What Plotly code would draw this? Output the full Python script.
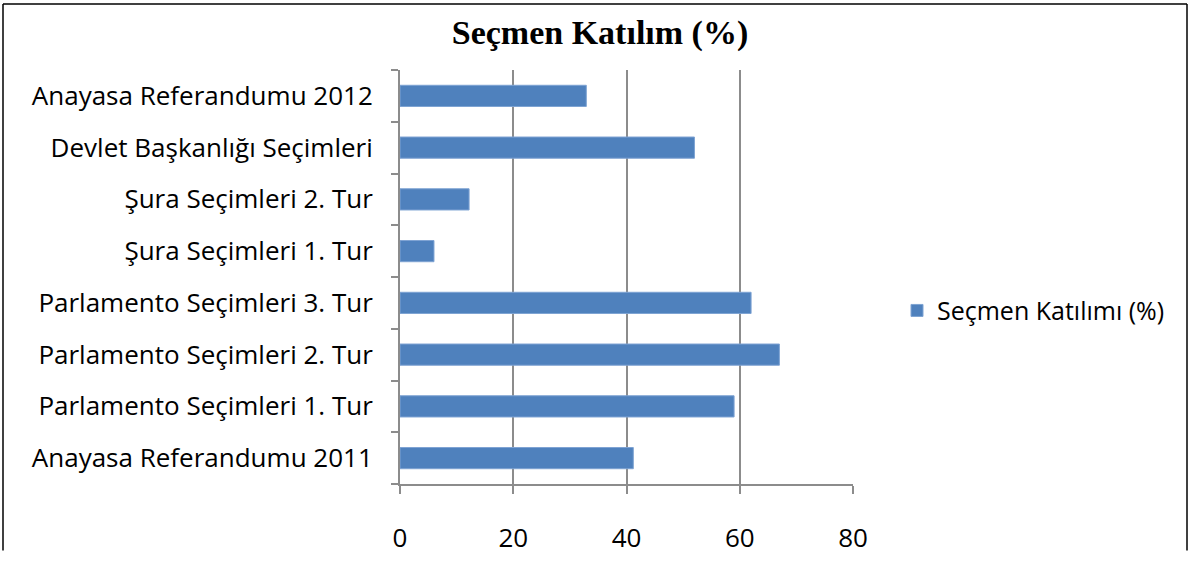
import plotly.graph_objects as go

categories = [
    "Anayasa Referandumu 2011",
    "Parlamento Seçimleri 1. Tur",
    "Parlamento Seçimleri 2. Tur",
    "Parlamento Seçimleri 3. Tur",
    "Şura Seçimleri 1. Tur",
    "Şura Seçimleri 2. Tur",
    "Devlet Başkanlığı Seçimleri",
    "Anayasa Referandumu 2012",
]
values = [41.2, 59.0, 67.0, 62.0, 6.0, 12.2, 52.0, 32.9]
series_name = "Seçmen Katılımı (%)"
title_text = "Seçmen Katılım (%)"
x_ticks = [0, 20, 40, 60, 80]

W, H = 1189, 567
HE = 552          # height the figure is effectively drawn at in the viewer
L, T = 400, 70
R = W - 853
B = HE - 500
pw, ph = W - L - R, HE - T - B

def px(xr):  # picture x pixel -> paper coord
    return (xr - L) / pw

def py(yr):  # picture y pixel -> paper coord
    return (HE - B - yr) / ph

fig = go.Figure()
fig.add_trace(go.Bar(
    x=values, y=categories, orientation="h", name=series_name,
    marker=dict(color="#4F81BD", line=dict(color="#7EA3D3", width=1)),
    showlegend=True,
))

grid = "#8C8C8C"
fig.update_layout(
    width=W, height=H,
    margin=dict(l=L, r=R, t=T, b=B, pad=0),
    paper_bgcolor="white", plot_bgcolor="white",
    bargap=0.59,
    title=dict(text="<b>" + title_text + "</b>", x=600 / W, xref="container", xanchor="center",
               y=1 - 31 / HE, yanchor="middle",
               font=dict(family="Liberation Serif, DejaVu Serif, serif", size=34, color="black")),
    font=dict(family="Open Sans, Noto Sans, sans-serif", color="black"),
    legend=dict(x=px(897), xanchor="left", y=py(320), yanchor="middle",
                font=dict(size=25, color="black"), bgcolor="rgba(0,0,0,0)",
                itemwidth=30),
    xaxis=dict(range=[0, 80], tickvals=x_ticks, showgrid=True, gridcolor=grid, gridwidth=2,
               showline=True, linecolor=grid, linewidth=2, ticks="outside", ticklen=8,
               tickcolor=grid, tickwidth=2, zeroline=False,
               tickfont=dict(size=26, color="black"), ticklabelstandoff=22, fixedrange=True),
    yaxis=dict(type="category", categoryorder="array", categoryarray=categories,
               showgrid=False, showline=True, linecolor=grid, linewidth=2,
               ticks="outside", ticklen=7, tickcolor=grid, tickwidth=2, tickson="boundaries",
               tickfont=dict(size=26, color="black"), ticklabelstandoff=20, fixedrange=True),
)

# outer chart frame (top, left, right edges; bottom lies beyond the picture)
frame = dict(color="black", width=1.5)
for x0, y0, x1, y1 in [(3, 1.5, 1187, 1.5), (3, 1.5, 3, H + 2), (1187, 1.5, 1187, H + 2)]:
    fig.add_shape(type="line", xref="paper", yref="paper",
                  x0=px(x0), y0=py(y0), x1=px(x1), y1=py(y1), line=frame, layer="below")

page_css = (
    "var s='margin:0;padding:0;overflow:hidden;width:%dpx;height:%dpx;';"
    "document.documentElement.style.cssText=s;document.body.style.cssText=s;"
) % (W, H)
fig.write_html("out.html", config={"displayModeBar": False}, post_script=page_css)
